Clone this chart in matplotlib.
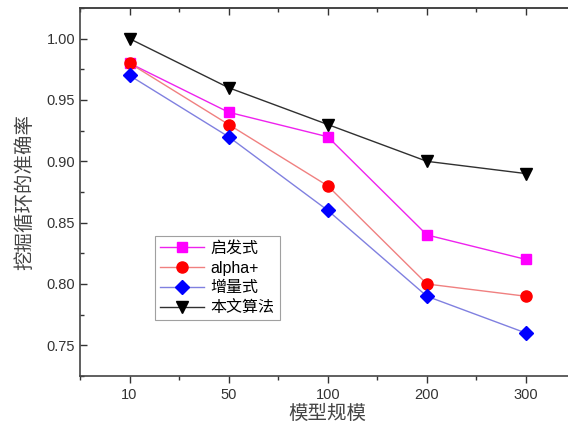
import matplotlib.pyplot as plt
from matplotlib.ticker import MultipleLocator

plt.rcParams['font.family'] = ['Liberation Sans', 'Noto Sans CJK SC', 'DejaVu Sans']

sizes = ['10', '50', '100', '200', '300']
heuristic = [0.98, 0.94, 0.92, 0.84, 0.82]
alpha_plus = [0.98, 0.93, 0.88, 0.80, 0.79]
incremental = [0.97, 0.92, 0.86, 0.79, 0.76]
ours = [1.00, 0.96, 0.93, 0.90, 0.89]

fig = plt.figure(figsize=(5.68, 4.36), dpi=100)
ax = fig.add_axes([0.1408, 0.1376, 0.8726, 0.8441])
x = list(range(len(sizes)))

ax.plot(x, heuristic, color='#ee22ee', lw=1, marker='s', ms=7, mfc='#ff00ff', mec='#ff00ff', label='启发式')
ax.plot(x, alpha_plus, color='#f08080', lw=1, marker='o', ms=8, mfc='#ff0000', mec='#ff0000', label='alpha+')
ax.plot(x, incremental, color='#8080e0', lw=1, marker='D', ms=7, mfc='#0000ff', mec='#0000ff', label='增量式')
ax.plot(x, ours, color='#303030', lw=1, marker='v', ms=9, mfc='black', mec='black', label='本文算法')

ax.set_xlim(-0.5, 4.5)
ax.set_ylim(0.725, 1.025)
ax.set_xticks(x)
ax.set_xticklabels(sizes)
ax.xaxis.set_minor_locator(MultipleLocator(0.5))
ax.yaxis.set_major_locator(MultipleLocator(0.05))
ax.yaxis.set_minor_locator(MultipleLocator(0.025))
ax.yaxis.set_major_formatter(plt.FormatStrFormatter('%.2f'))

ax.tick_params(axis='x', which='both', direction='out', labelsize=10.5, colors='#333333')
ax.tick_params(axis='y', which='both', direction='in', right=True, labelsize=10.5, colors='#333333')
ax.tick_params(which='major', length=5, width=1)
ax.tick_params(which='minor', length=3, width=1)

top = ax.secondary_xaxis('top')
top.set_xticks(x)
top.xaxis.set_minor_locator(MultipleLocator(0.5))
top.tick_params(which='both', direction='in', labeltop=False, colors='#333333', width=1)
top.tick_params(which='major', length=5)
top.tick_params(which='minor', length=3)
top.spines['top'].set_color('#444444')
top.spines['top'].set_linewidth(1.2)

for s in ax.spines.values():
    s.set_color('#444444')
    s.set_linewidth(1.2)

ax.set_xlabel('模型规模', fontsize=14, family=['Noto Sans CJK SC'], color='#444444', labelpad=1)
ax.set_ylabel('挖掘循环的准确率', fontsize=14, family=['Noto Sans CJK SC'], color='#444444', labelpad=8)

leg = ax.legend(loc='lower left', bbox_to_anchor=(0.151, 0.152), fontsize=11.5, frameon=True,
                fancybox=False, edgecolor='#888888', borderpad=0.3, labelspacing=0.3,
                handlelength=2.8, handletextpad=0.4, borderaxespad=0)
leg.get_frame().set_linewidth(0.8)

fig.savefig('out.png', dpi=100)
